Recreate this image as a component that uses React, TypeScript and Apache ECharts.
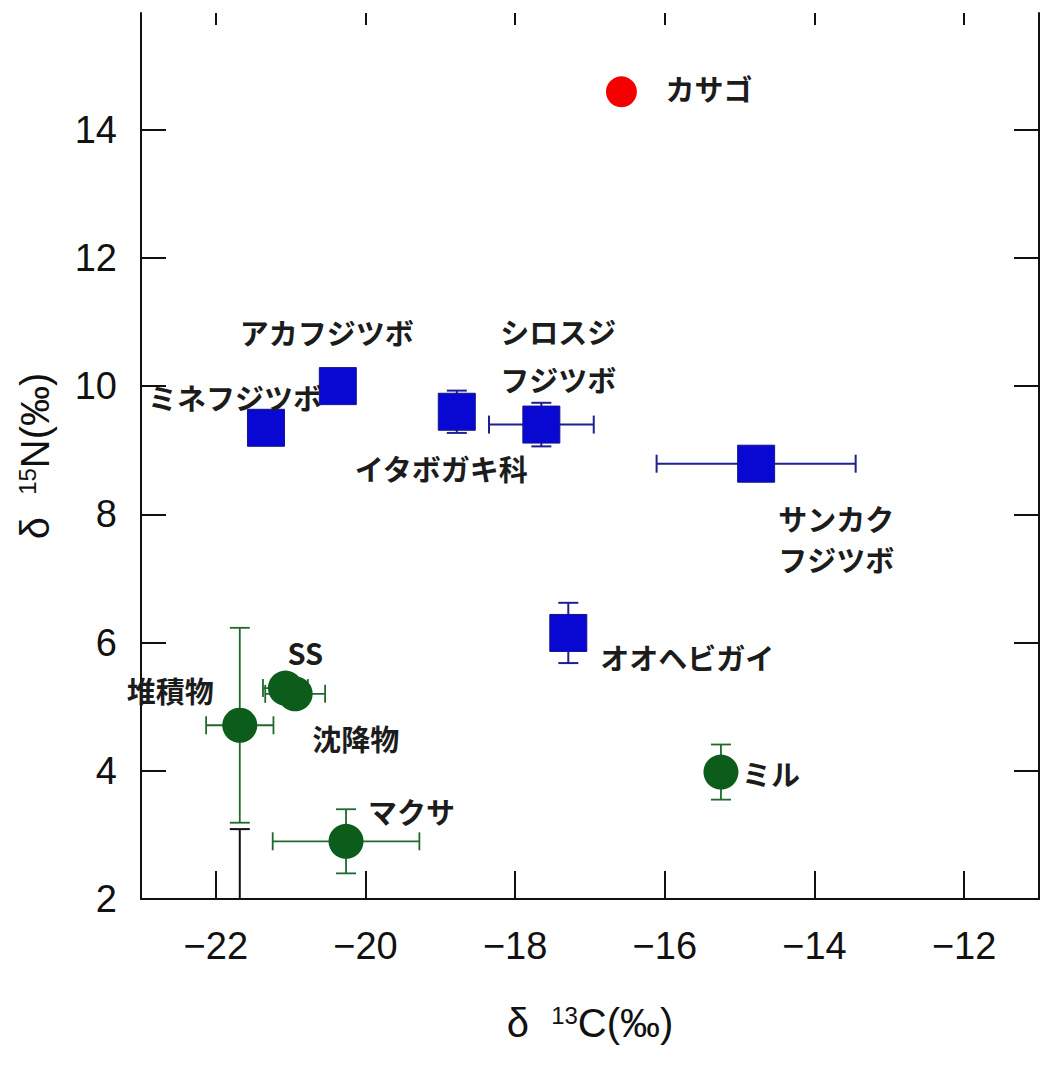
import React, { useEffect, useRef } from "react";
import * as echarts from "echarts";

// ---- data ----
const xTicks = [-22, -20, -18, -16, -14, -12];
const yTicks = [2, 4, 6, 8, 10, 12, 14];

const blueNames = ["ミネフジツボ", "アカフジツボ", "イタボガキ科", "シロスジ\nフジツボ", "サンカク\nフジツボ", "オオヘビガイ"];
const blueX = [-21.33, -20.37, -18.78, -17.65, -14.78, -17.29];
const blueY = [9.35, 10.0, 9.6, 9.4, 8.79, 6.15];
const blueXErr = [0, 0, 0, 0.7, 1.33, 0];
const blueYErr = [0, 0, 0.33, 0.34, 0, 0.47];

const greenNames = ["SS", "沈降物", "堆積物", "マクサ", "ミル"];
const greenX = [-21.07, -20.94, -21.68, -20.26, -15.25];
const greenY = [5.29, 5.2, 4.71, 2.9, 3.98];
const greenXErr = [0.3, 0.4, 0.45, 0.98, 0];
const greenYErr = [0, 0, 1.52, 0.5, 0.43];

const redNames = ["カサゴ"];
const redX = [-16.58];
const redY = [14.59];

// broken lower part of the 堆積物 error bar (continues below the axis)
const stubX = [-21.68];
const stubTop = [3.09];
const stubBottom = [2];

// ---- label placement (pixel offsets from marker centre) ----
const blueLabelOffsets = [[-118, -31], [-98, -54], [-102, 56], [-41, -70], [22, 75], [32, 24]];
const blueLabelLineHeights = [36, 36, 36, 48, 41, 36];
const greenLabelOffsets = [[2, -36], [17, 44], [-113, -35], [22, -30], [21, 1]];
const redLabelOffsets = [[44, -4]];

const labelBase = {
  show: true,
  position: "inside",
  align: "left",
  verticalAlign: "middle",
  fontSize: 29,
  fontWeight: "bold",
  fontFamily: "'Noto Sans CJK JP', sans-serif",
  color: "#1c1c1c",
  formatter: "{b}",
};

function errRender(color: string, width: number) {
  return (params: any, api: any) => {
    const x = api.value(0);
    const y = api.value(1);
    const xe = api.value(2);
    const ye = api.value(3);
    const children: any[] = [];
    const style = { stroke: color, lineWidth: width };
    if (xe > 0) {
      const a = api.coord([x - xe, y]);
      const b = api.coord([x + xe, y]);
      children.push({ type: "line", shape: { x1: a[0], y1: a[1], x2: b[0], y2: b[1] }, style });
      children.push({ type: "line", shape: { x1: a[0], y1: a[1] - 9, x2: a[0], y2: a[1] + 9 }, style });
      children.push({ type: "line", shape: { x1: b[0], y1: b[1] - 9, x2: b[0], y2: b[1] + 9 }, style });
    }
    if (ye > 0) {
      const a = api.coord([x, y + ye]);
      const b = api.coord([x, y - ye]);
      children.push({ type: "line", shape: { x1: a[0], y1: a[1], x2: b[0], y2: b[1] }, style });
      children.push({ type: "line", shape: { x1: a[0] - 10, y1: a[1], x2: a[0] + 10, y2: a[1] }, style });
      children.push({ type: "line", shape: { x1: b[0] - 10, y1: b[1], x2: b[0] + 10, y2: b[1] }, style });
    }
    return { type: "group", children };
  };
}

const minusFmt = (v: number) => String(v).replace("-", "\u2212");

export default function App() {
  const ref = useRef<HTMLDivElement>(null);
  useEffect(() => {
    if (!ref.current) return;
    const chart = echarts.init(ref.current, null, { renderer: "svg" });
    const tickFont = { fontSize: 38, fontFamily: "'Liberation Sans', Arial, sans-serif", color: "#111" };
    const nameRich = {
      a: { fontSize: 40, fontFamily: "'Liberation Sans', Arial, sans-serif", color: "#111", verticalAlign: "bottom" },
      s: { fontSize: 24, fontFamily: "'Liberation Sans', Arial, sans-serif", color: "#111", verticalAlign: "top" },
    };
    const lineStyle = { color: "#111", width: 2 };
    const option: any = {
      animation: false,
      backgroundColor: "#fff",
      grid: { left: 141, top: 13, width: 898, height: 886, containLabel: false },
      xAxis: [
        {
          type: "value",
          position: "bottom",
          min: -23,
          max: -11,
          splitLine: { show: false },
          axisLine: { show: true, onZero: false, lineStyle },
          axisTick: { show: true, inside: true, length: 28, customValues: xTicks, lineStyle },
          axisLabel: { show: true, margin: 28, customValues: xTicks, formatter: minusFmt, ...tickFont },
          name: "{a|δ  }{s|13}{a|C(‰)}",
          nameLocation: "middle",
          nameGap: 104,
          nameTextStyle: { rich: nameRich },
        },
        {
          type: "value",
          position: "top",
          min: -23,
          max: -11,
          splitLine: { show: false },
          axisLine: { show: false },
          axisTick: { show: true, inside: true, length: 12, customValues: xTicks, lineStyle },
          axisLabel: { show: false },
        },
      ],
      yAxis: [
        {
          type: "value",
          position: "left",
          min: 2,
          max: 15.82,
          splitLine: { show: false },
          axisLine: { show: true, onZero: false, lineStyle },
          axisTick: { show: true, inside: true, length: 25, customValues: yTicks, lineStyle },
          axisLabel: { show: true, margin: 24, customValues: yTicks, formatter: minusFmt, ...tickFont },
          name: "{a|δ  }{s|15}{a|N(‰)}",
          nameLocation: "middle",
          nameRotate: 90,
          nameGap: 86,
          nameTextStyle: { rich: nameRich },
        },
        {
          type: "value",
          position: "right",
          min: 2,
          max: 15.82,
          splitLine: { show: false },
          axisLine: { show: true, onZero: false, lineStyle },
          axisTick: { show: true, inside: true, length: 25, customValues: yTicks, lineStyle },
          axisLabel: { show: false },
        },
      ],
      series: [
        {
          type: "custom",
          z: 2,
          renderItem: errRender("#1f1f8f", 2),
          data: blueX.map((x, i) => [x, blueY[i], blueXErr[i], blueYErr[i]]),
        },
        {
          type: "custom",
          z: 2,
          renderItem: errRender("#1e6a2a", 1.8),
          data: greenX.map((x, i) => [x, greenY[i], greenXErr[i], greenYErr[i]]),
        },
        {
          type: "custom",
          z: 2,
          renderItem: (params: any, api: any) => {
            const a = api.coord([api.value(0), api.value(1)]);
            const b = api.coord([api.value(0), api.value(2)]);
            const style = { stroke: "#111", lineWidth: 2 };
            return {
              type: "group",
              children: [
                { type: "line", shape: { x1: a[0], y1: a[1], x2: b[0], y2: b[1] }, style },
                { type: "line", shape: { x1: a[0] - 10, y1: a[1], x2: a[0] + 10, y2: a[1] }, style },
              ],
            };
          },
          data: stubX.map((x, i) => [x, stubTop[i], stubBottom[i]]),
        },
        {
          type: "scatter",
          z: 3,
          symbol: "rect",
          symbolSize: 37,
          itemStyle: { color: "#0808d2", borderColor: "#14148c", borderWidth: 1, opacity: 1 },
          data: blueX.map((x, i) => ({
            name: blueNames[i],
            value: [x, blueY[i]],
            label: { ...labelBase, offset: blueLabelOffsets[i], lineHeight: blueLabelLineHeights[i] },
          })),
        },
        {
          type: "scatter",
          z: 3,
          symbol: "circle",
          symbolSize: 35,
          itemStyle: { color: "#0c5c1c", opacity: 1 },
          data: greenX.map((x, i) => ({
            name: greenNames[i],
            value: [x, greenY[i]],
            label: { ...labelBase, offset: greenLabelOffsets[i] },
          })),
        },
        {
          type: "scatter",
          z: 3,
          symbol: "circle",
          symbolSize: 31,
          itemStyle: { color: "#f40000", opacity: 1 },
          data: redX.map((x, i) => ({
            name: redNames[i],
            value: [x, redY[i]],
            label: { ...labelBase, offset: redLabelOffsets[i] },
          })),
        },
      ],
    };
    chart.setOption(option);
    return () => chart.dispose();
  }, []);
  return (
    <div
      ref={ref}
      style={{ position: "fixed", left: 0, top: 0, width: 1045, height: 1065, background: "#fff" }}
    />
  );
}
